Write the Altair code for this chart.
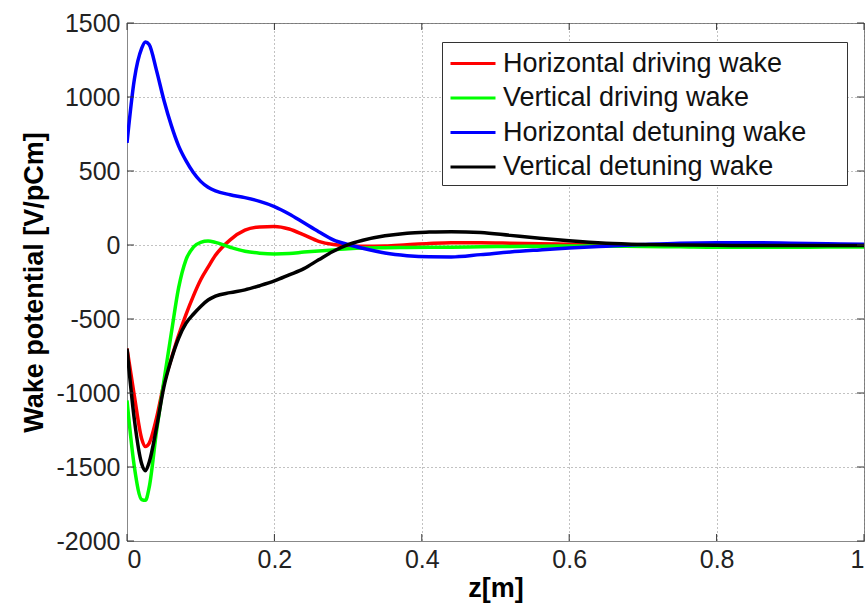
import altair as alt
import pandas as pd

# ---- data ----
z = [0, 0.01, 0.02, 0.025, 0.03, 0.04, 0.05, 0.06, 0.07, 0.08, 0.09, 0.1, 0.11, 0.12,
     0.14, 0.16, 0.18, 0.2, 0.22, 0.24, 0.26, 0.28, 0.30, 0.32, 0.35, 0.38, 0.41, 0.44,
     0.48, 0.52, 0.56, 0.6, 0.65, 0.7, 0.75, 0.8, 0.85, 0.9, 0.95, 1.0]

h_driving = [-700, -1020, -1310, -1362, -1340, -1170, -940, -770, -610, -470, -345, -235, -150, -70,
             35, 100, 122, 125, 108, 68, 25, 3, -6, -8, -6, 2, 10, 15,
             15, 12, 8, 5, 2, 0, 0, -2, -3, -3, -3, -3]

v_driving = [-1050, -1500, -1720, -1725, -1640, -1260, -920, -600, -290, -100, -15, 18, 27, 18,
             -15, -42, -55, -60, -57, -48, -40, -33, -25, -20, -18, -17, -16, -15,
             -12, -10, -8, -7, -8, -10, -12, -15, -15, -15, -14, -14]

h_detuning = [690, 1120, 1330, 1372, 1355, 1180, 980, 810, 670, 570, 490, 430, 390, 365,
              340, 320, 295, 260, 210, 150, 90, 35, 3, -22, -54, -72, -80, -81,
              -65, -47, -33, -20, -8, 3, 12, 15, 15, 12, 8, 5]

v_detuning = [-700, -1180, -1480, -1525, -1470, -1235, -960, -775, -630, -530, -468, -415, -372, -345,
              -322, -303, -275, -243, -202, -160, -100, -42, 3, 32, 62, 80, 87, 90,
              85, 65, 45, 28, 12, 4, 0, -2, -3, -3, -3, -3]

series_names = ["Horizontal driving wake", "Vertical driving wake",
                "Horizontal detuning wake", "Vertical detuning wake"]
series_colors = ["#ff0000", "#00ff00", "#0000ff", "#000000"]
series_values = [h_driving, v_driving, h_detuning, v_detuning]

x_ticks = [0, 0.2, 0.4, 0.6, 0.8, 1.0]
y_ticks = [-2000, -1500, -1000, -500, 0, 500, 1000, 1500]

rows = []
for name, vals in zip(series_names, series_values):
    for zi, vi in zip(z, vals):
        rows.append({"series": name, "z": zi, "w": vi})
df = pd.DataFrame(rows)

W, H = 737, 518
FONT = "Liberation Sans"

x_enc = alt.X("z:Q", scale=alt.Scale(domain=[0, 1], nice=False, zero=False),
              axis=alt.Axis(values=x_ticks, labelExpr="datum.value + ''", title="z[m]",
                            labelPadding=6, titlePadding=3))
y_enc = alt.Y("w:Q", scale=alt.Scale(domain=[-2000, 1500], nice=False, zero=False),
              axis=alt.Axis(values=y_ticks, labelExpr="datum.value + ''",
                            title="Wake potential [V/pCm]", labelPadding=7, titlePadding=8))
color_enc = alt.Color("series:N",
                      scale=alt.Scale(domain=series_names, range=series_colors),
                      sort=series_names,
                      legend=alt.Legend(title=" ", titleOrient="right", titlePadding=36,
                                        orient="none", legendX=315, legendY=19,
                                        symbolType="M-1.5,0H1.5", symbolSize=900,
                                        symbolOffset=9.5,
                                        symbolStrokeWidth=3, labelFontSize=27,
                                        labelFont=FONT, labelColor="#111",
                                        strokeColor="#333", fillColor="white",
                                        padding=5, rowPadding=4.5, labelOffset=13.5,
                                        labelLimit=400))

layers = []
for name in series_names:
    layers.append(
        alt.Chart(df).transform_filter(alt.datum.series == name)
        .mark_line(strokeWidth=3.5, interpolate="monotone", clip=True)
        .encode(x=x_enc, y=y_enc, color=color_enc, order=alt.Order("z:Q"))
    )

xt = pd.DataFrame({"t": x_ticks})
yt = pd.DataFrame({"t": y_ticks})
tick_col = "#333"
ticks_bottom = alt.Chart(xt).mark_rule(color=tick_col, strokeWidth=1).encode(
    x="t:Q", y=alt.value(H), y2=alt.value(H - 7))
ticks_top = alt.Chart(xt).mark_rule(color=tick_col, strokeWidth=1).encode(
    x="t:Q", y=alt.value(0), y2=alt.value(7))
ticks_left = alt.Chart(yt).mark_rule(color=tick_col, strokeWidth=1).encode(
    y="t:Q", x=alt.value(0), x2=alt.value(7))
ticks_right = alt.Chart(yt).mark_rule(color=tick_col, strokeWidth=1).encode(
    y="t:Q", x=alt.value(W), x2=alt.value(W - 7))

chart = alt.layer(*layers, ticks_bottom, ticks_top, ticks_left, ticks_right).properties(
    width=W, height=H,
    autosize=alt.AutoSizeParams(type="none"),
    padding={"left": 127, "top": 23, "right": 2, "bottom": 62},
    background="white",
).configure_axis(
    labelFont=FONT, labelFontSize=25, labelColor="#222",
    titleFont=FONT, titleFontSize=27, titleFontWeight="bold", titleColor="#000",
    domainColor="#888", domainWidth=1, tickSize=0,
    gridColor="#666", gridDash=[1, 3], gridOpacity=0.8, gridWidth=1,
).configure_view(stroke="#888", strokeWidth=1)

chart.save("out.html", embed_options={"renderer": "svg", "actions": False})
